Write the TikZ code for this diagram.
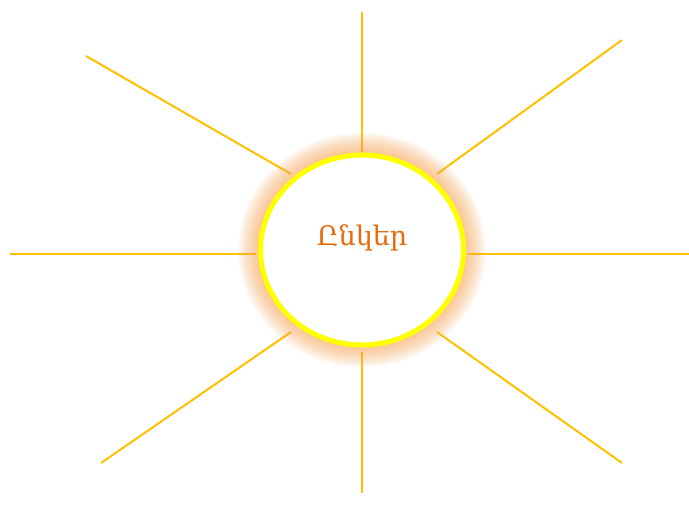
\documentclass[tikz,border=0pt]{standalone}
\usepackage{fontspec}
\usepackage{xcolor}
\newfontfamily\armfont[Script=Armenian]{DejaVu Serif}
\definecolor{rayorange}{RGB}{255, 192, 0}
\definecolor{sunyellow}{RGB}{255, 255, 0}
\definecolor{glowpeach}{RGB}{250, 165, 80}
\definecolor{wordorange}{RGB}{228, 108, 10}
\tikzset{
    % Rays round the sun
    ray/.style={
        draw=rayorange,
        line width=2pt,
    },
    % Soft halo behind the sun
    halo/.style={
        draw=glowpeach,
        draw opacity=0.08,
        line width=#1,
    },
    % The sun itself
    sunbody/.style={
        ellipse,
        draw=sunyellow,
        line width=5pt,
        fill=white,
        minimum width=203pt,
        minimum height=190pt,
        inner sep=0pt,
    },
    % Centre word
    sunword/.style={
        font=\armfont\fontsize{27}{32}\selectfont,
        text=wordorange,
    },
}
\usetikzlibrary{shapes.geometric}
\begin{document}
\begin{tikzpicture}[x=1pt, y=-1pt]

% =========================================================================
% Frame
% =========================================================================
\path[use as bounding box, fill=white] (0,0) rectangle (689,522);

% =========================================================================
% Ray end points (outer / inner)
% =========================================================================
\coordinate (nOut)  at (362,12);   \coordinate (nIn)  at (362,152);
\coordinate (sOut)  at (362,493);  \coordinate (sIn)  at (362,352);
\coordinate (wOut)  at (10,254);   \coordinate (wIn)  at (256,254);
\coordinate (eOut)  at (689,254);  \coordinate (eIn)  at (468,254);
\coordinate (nwOut) at (86,56);    \coordinate (nwIn) at (291,174);
\coordinate (neOut) at (622,40);   \coordinate (neIn) at (437,174);
\coordinate (swOut) at (101,463);  \coordinate (swIn) at (291,332);
\coordinate (seOut) at (622,463);  \coordinate (seIn) at (437,332);

% =========================================================================
% Rays
% =========================================================================
\foreach \dir in {n,s,w,e,nw,ne,sw,se}
    \draw[ray] (\dir Out) -- (\dir In);

% =========================================================================
% Halo + sun
% =========================================================================
\foreach \w in {44,40,...,4}
    \draw[halo=\w pt] (362,250) ellipse [x radius=101.5pt, y radius=95pt];

\node[sunbody] (sun) at (362,250) {};
\node[sunword] (word) at (362,238) {Ընկեր};

\end{tikzpicture}
\end{document}
